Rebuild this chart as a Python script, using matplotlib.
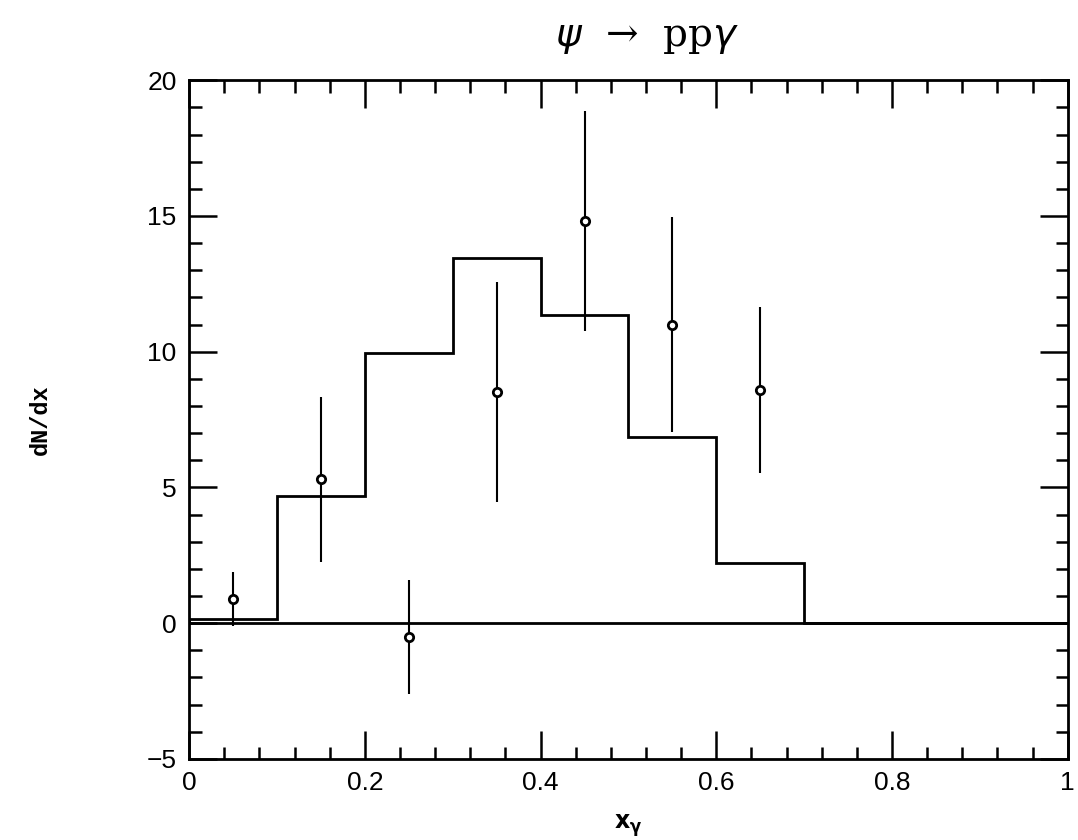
import numpy as np
import matplotlib.pyplot as plt
from matplotlib.ticker import MultipleLocator

# histogram (model)
bin_edges = [0.0, 0.1, 0.2, 0.3, 0.4, 0.5, 0.6, 0.7, 1.0]
bin_vals = [0.15, 4.7, 9.95, 13.45, 11.35, 6.85, 2.2, 0.0]

# data points
x_pts = [0.05, 0.15, 0.25, 0.35, 0.45, 0.55, 0.65]
y_pts = [0.9, 5.3, -0.5, 8.5, 14.8, 11.0, 8.6]
y_err = [1.0, 3.05, 2.1, 4.05, 4.05, 3.95, 3.05]

x_ticks = [0, 0.2, 0.4, 0.6, 0.8, 1.0]
x_ticklabels = ['0', '0.2', '0.4', '0.6', '0.8', '1']
y_ticks = [-5, 0, 5, 10, 15, 20]
y_ticklabels = ['\u22125', '0', '5', '10', '15', '20']


def main():
    fig = plt.figure(figsize=(10.78, 8.4), dpi=100)
    ax = fig.add_axes([0.1755, 0.0965, 0.815, 0.808])

    ax.stairs(bin_vals, bin_edges, color='black', linewidth=2)
    ax.axhline(0, color='black', linewidth=2)
    ax.errorbar(x_pts, y_pts, yerr=y_err, fmt='o', color='black',
                markerfacecolor='white', markeredgewidth=2, markersize=6,
                elinewidth=1.5, capsize=0)

    ax.set_xlim(0, 1)
    ax.set_ylim(-5, 20)
    ax.xaxis.set_minor_locator(MultipleLocator(0.04))
    ax.yaxis.set_minor_locator(MultipleLocator(1))
    ax.set_xticks(x_ticks)
    ax.set_xticklabels(x_ticklabels)
    ax.set_yticks(y_ticks)
    ax.set_yticklabels(y_ticklabels)

    ax.tick_params(which='both', direction='in', top=True, right=True,
                   labelsize=19, width=1.8, pad=9)
    ax.tick_params(which='major', length=20)
    ax.tick_params(which='minor', length=9)
    for lab in ax.get_xticklabels() + ax.get_yticklabels():
        lab.set_family('Liberation Sans')
    for s in ax.spines.values():
        s.set_linewidth(2)

    ax.set_xlabel(r'$\mathbf{x}_{\mathbf{\gamma}}$', fontsize=17, labelpad=12)
    ax.set_ylabel('dN/dx', fontsize=17, fontweight='bold',
                  family='Liberation Mono', labelpad=68)
    fig.text(0.6, 0.955, '$\\psi$  \u2192  pp$\\gamma$', fontsize=28,
             family='DejaVu Serif', ha='center', va='center')

    fig.savefig('out.png', dpi=100)


if __name__ == "__main__":
    main()
